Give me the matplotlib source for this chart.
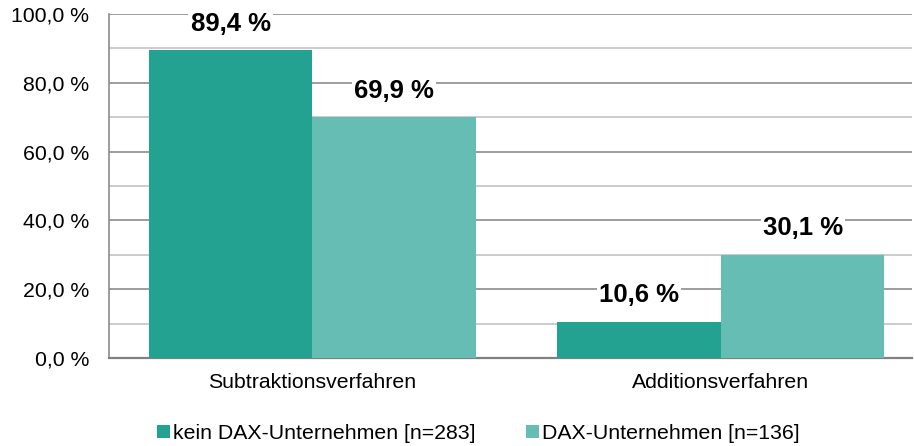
import numpy as np
import matplotlib.pyplot as plt

plt.rcParams['font.family'] = ['Liberation Sans', 'DejaVu Sans']

categories = ['Subtraktionsverfahren', 'Additionsverfahren']
series = ['kein DAX-Unternehmen [n=283]', 'DAX-Unternehmen [n=136]']
kein_dax = [89.4, 10.6]
dax = [69.9, 30.1]
colors = ['#23a191', '#66bdb3']


def fmt(v):
    return f'{v:.1f}'.replace('.', ',') + ' %'


fig = plt.figure(figsize=(9.14, 4.46), dpi=100)
ax = fig.add_axes([0.119, 0.197, 0.879, 0.772])

x = np.arange(len(categories))
w = 0.40
for i, (vals, name) in enumerate(zip([kein_dax, dax], series)):
    pos = x + (i - 0.5) * w
    ax.bar(pos, vals, w, color=colors[i], label=name, zorder=3)
    for p, v in zip(pos, vals):
        ax.annotate(fmt(v), (p, v), xytext=(0, 19), textcoords='offset points',
                    ha='center', va='center', fontsize=18.5, fontweight='bold',
                    bbox=dict(facecolor='white', edgecolor='none', pad=1.5),
                    zorder=4)

ax.set_xlim(-0.498, 1.468)
ax.set_ylim(0, 100)
ax.set_yticks(np.arange(0, 101, 20))
ax.set_yticks(np.arange(10, 100, 20), minor=True)
ax.set_yticklabels([fmt(v) for v in np.arange(0, 101, 20)], fontsize=15.3)
ax.set_xticks(x)
ax.set_xticklabels(categories, fontsize=15.3)
ax.tick_params(axis='y', which='both', length=0, pad=14)
ax.tick_params(axis='x', which='both', length=0, pad=11)
ax.grid(axis='y', which='major', color='#8c8c8c', linewidth=1.2, zorder=0)
ax.grid(axis='y', which='minor', color='#c4c4c4', linewidth=1.2, zorder=0)

for s in ['top', 'right']:
    ax.spines[s].set_visible(False)
ax.spines['left'].set_color('#8c8c8c')
ax.spines['bottom'].set_color('#808080')
ax.spines['left'].set_linewidth(1.2)
ax.spines['bottom'].set_linewidth(1.6)

fig.legend(loc='center', bbox_to_anchor=(0.5235, 0.028), ncol=2, frameon=False,
           fontsize=15.3, handlelength=0.6, handleheight=0.6, handletextpad=0.15,
           columnspacing=2.4)

fig.savefig('out.png', dpi=100)
